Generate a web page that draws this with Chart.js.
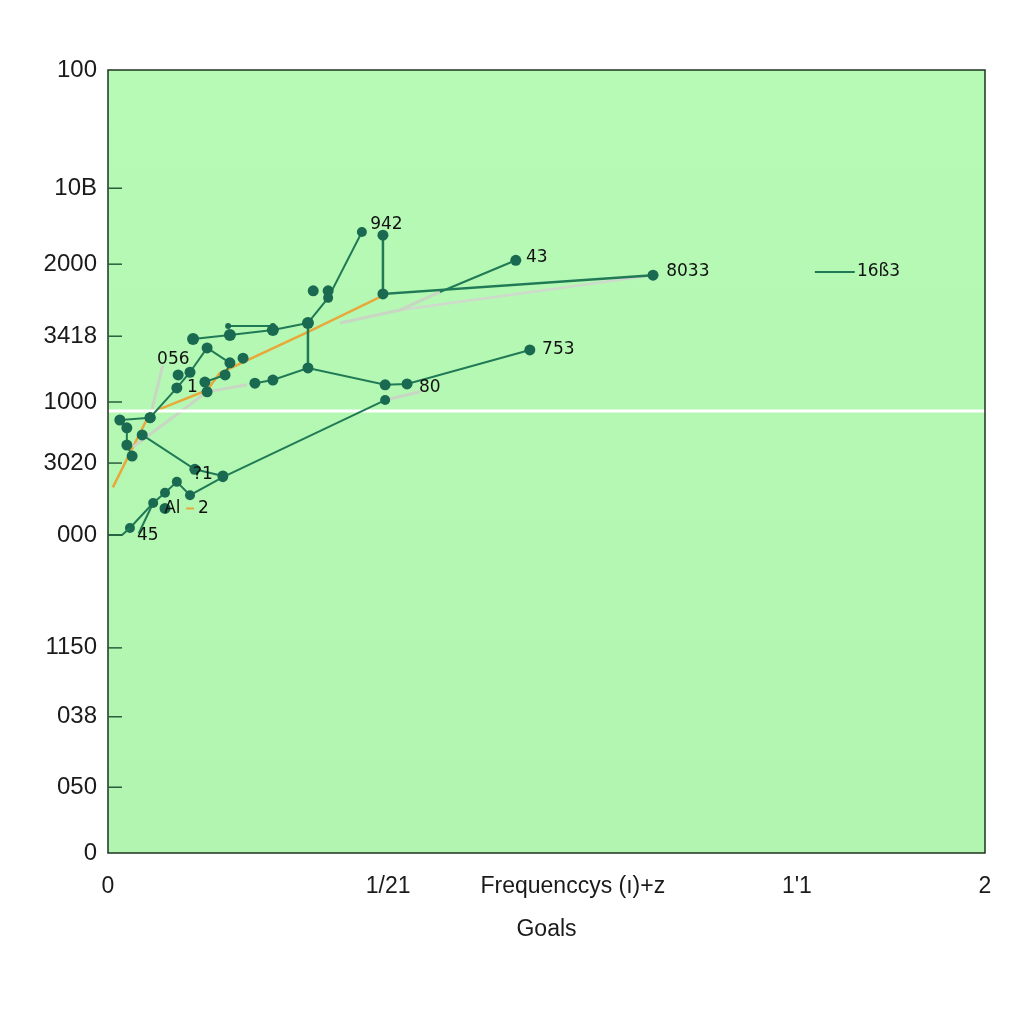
<!DOCTYPE html>
<html>
<head>
<meta charset="utf-8">
<script src="https://cdn.jsdelivr.net/npm/chart.js@4"></script>
<style>
  html, body { margin: 0; padding: 0; background: #ffffff; }
</style>
</head>
<body>
<canvas id="myChart" width="1024" height="1024"></canvas>
<script>
// axis ticks (odd labels copied as they appear)
var yTickValues = [0, 8.4, 17.4, 26.2, 40.6, 49.8, 57.6, 66.0, 75.2, 84.9, 100];
var yTickLabels = ["0", "050", "038", "1150", "000", "3020", "1000", "3418", "2000", "10B", "100"];
var xTickValues = [0, 0.639, 1.06, 1.571, 2];
var xTickLabels = ["0", "1/21", "Frequenccys (\u0131)+z", "1'1", "2"];

// green series
var stubLine = [[0, 40.6], [0.032, 40.6], [0.050, 41.5]];
var lowerLine = [[0.050, 41.5], [0.103, 44.7], [0.130, 46.0], [0.157, 47.4], [0.187, 45.7], [0.262, 48.0], [0.632, 57.85]];
var tailLine = [[0.103, 44.7], [0.070, 40.8]];
var clusterLine = [[0.055, 50.7], [0.043, 52.1], [0.043, 54.3], [0.027, 55.3], [0.096, 55.6]];
var dropLine = [[0.078, 53.4], [0.198, 49.0], [0.262, 48.15]];
var wiggleLine = [[0.096, 55.6], [0.157, 59.4], [0.187, 61.4], [0.226, 64.5], [0.278, 62.6], [0.267, 61.05], [0.221, 60.15]];
var upperFlat = [[0.194, 65.65], [0.278, 66.15], [0.376, 66.8], [0.456, 67.7]];
var shortFlat = [[0.274, 67.3], [0.376, 67.3]];
var midLine = [[0.335, 60.0], [0.376, 60.4], [0.456, 61.95], [0.632, 59.8], [0.682, 59.9], [0.962, 64.25]];
var stemLine = [[0.456, 67.7], [0.456, 61.95]];
var riseLine = [[0.456, 67.7], [0.502, 70.9], [0.579, 79.3]];
var topLine = [[0.627, 78.9], [0.627, 71.4], [1.243, 73.8]];
var line43 = [[0.757, 71.65], [0.930, 75.7]];
var legendLine = [[1.612, 74.2], [1.703, 74.2]];
var looseDots = [[0.160, 61.05], [0.308, 63.2], [0.226, 58.9], [0.468, 71.8], [0.502, 71.8], [0.130, 44.0]];

// orange trend and grey shadows
var orangeLine = [[0.011, 46.7], [0.057, 51.85], [0.096, 56.2], [0.226, 59.1], [0.255, 61.3], [0.454, 66.5], [0.620, 71.0]];
var orangeDash = [[0.178, 44.0], [0.196, 44.0]];
var greyA = [[0.096, 55.7], [0.125, 62.3]];
var greyB = [[0.057, 51.85], [0.226, 58.9], [0.317, 59.8]];
var greyC = [[0.529, 67.7], [0.666, 69.35], [0.757, 71.65]];
var greyD = [[0.666, 69.35], [1.243, 73.8]];
var greyE = [[0.632, 57.85], [0.712, 58.9]];
var whiteLine = [[0, 56.45], [2, 56.45]];

// point labels: text, x, y
var pointLabels = [
  ["942", 0.598, 80.3], ["43", 0.953, 76.0], ["8033", 1.273, 74.2], ["16\u00df3", 1.708, 74.2],
  ["753", 0.990, 64.25], ["80", 0.709, 59.4], ["056", 0.112, 63.0], ["1", 0.180, 59.5],
  ["?1", 0.194, 48.3], ["Al", 0.128, 44.0], ["2", 0.205, 44.0], ["45", 0.066, 40.6]
];

var green = "#217a56";
var dot = "#1a6a52";

function pts(arr) { return arr.map(function (p) { return { x: p[0], y: p[1] }; }); }
function greenSet(arr, radius, width) {
  return { data: pts(arr), showLine: true, borderColor: green, borderWidth: width || 2,
    pointRadius: radius, pointBackgroundColor: dot, pointBorderWidth: 0, order: 1 };
}
function plainSet(arr, color, width) {
  return { data: pts(arr), showLine: true, borderColor: color, borderWidth: width,
    pointRadius: 0, order: 3 };
}

var chartPlugin = {
  id: "chartDecor",
  beforeDraw: function (chart) {
    var a = chart.chartArea, ctx = chart.ctx;
    ctx.save();
    var g = ctx.createLinearGradient(0, a.top, 0, a.bottom);
    g.addColorStop(0, "#b6fab6");
    g.addColorStop(1, "#b2f5b0");
    ctx.fillStyle = g;
    ctx.fillRect(a.left, a.top, a.right - a.left, a.bottom - a.top);
    ctx.restore();
  },
  afterDraw: function (chart) {
    var a = chart.chartArea, ctx = chart.ctx;
    var xs = chart.scales.x, ys = chart.scales.y;
    ctx.save();
    ctx.strokeStyle = "#1c3322";
    ctx.lineWidth = 1.5;
    ctx.strokeRect(a.left, a.top, a.right - a.left, a.bottom - a.top);
    // inward tick marks on the y axis
    ctx.strokeStyle = "#2a5e3c";
    ctx.lineWidth = 1.5;
    yTickValues.slice(1, -1).forEach(function (v) {
      var py = ys.getPixelForValue(v);
      ctx.beginPath();
      ctx.moveTo(a.left, py);
      ctx.lineTo(a.left + 14, py);
      ctx.stroke();
    });
    ctx.fillStyle = "#111111";
    ctx.font = "17px 'DejaVu Sans', sans-serif";
    ctx.textBaseline = "middle";
    ctx.textAlign = "left";
    pointLabels.forEach(function (l) {
      ctx.fillText(l[0], xs.getPixelForValue(l[1]), ys.getPixelForValue(l[2]));
    });
    ctx.restore();
  }
};

new Chart("myChart", {
  type: "scatter",
  data: {
    datasets: [
      plainSet(whiteLine, "#ffffff", 3),
      plainSet(greyA, "#c9d6c4", 3),
      plainSet(greyB, "#c9d6c4", 3),
      plainSet(greyC, "#c9d6c4", 3),
      plainSet(greyD, "#cfd9cc", 2.5),
      plainSet(greyE, "#c9d6c4", 3),
      plainSet(orangeLine, "#e8a83a", 2.5),
      plainSet(orangeDash, "#e8a83a", 2),
      greenSet(stubLine, 0),
      greenSet(lowerLine, 5),
      greenSet(tailLine, 0),
      greenSet(clusterLine, 5.5),
      greenSet(dropLine, 5.5),
      greenSet(wiggleLine, 5.5),
      greenSet(upperFlat, 6),
      greenSet(shortFlat, 3),
      greenSet(midLine, 5.5),
      greenSet(stemLine, 0, 2.5),
      greenSet(riseLine, 5),
      greenSet(topLine, 5.5, 2.5),
      greenSet(line43, [0, 5.5]),
      greenSet(legendLine, 0),
      { data: pts(looseDots), showLine: false, pointRadius: 5.5, pointBackgroundColor: dot, pointBorderWidth: 0 }
    ]
  },
  options: {
    responsive: false,
    animation: false,
    layout: { padding: { top: 70, left: 0, right: 39, bottom: 51 } },
    plugins: { legend: { display: false }, tooltip: { enabled: false } },
    scales: {
      x: {
        type: "linear", min: 0, max: 2,
        border: { display: false },
        grid: { display: false, drawTicks: false },
        afterBuildTicks: function (s) { s.ticks = xTickValues.map(function (v) { return { value: v }; }); },
        afterFit: function (s) { s.height = 120; },
        ticks: {
          autoSkip: false, maxRotation: 0, padding: 20, color: "#1a1a1a",
          font: { family: "'Liberation Sans Narrow', 'Liberation Sans', sans-serif", size: 23 },
          callback: function (v, i) { return xTickLabels[i]; }
        },
        title: {
          display: true, text: "Goals", color: "#1a1a1a",
          font: { family: "'Liberation Sans Narrow', 'Liberation Sans', sans-serif", size: 23 },
          padding: { top: 0, bottom: 30 }
        }
      },
      y: {
        type: "linear", min: 0, max: 100,
        border: { display: false },
        grid: { display: false, drawTicks: false },
        afterBuildTicks: function (s) { s.ticks = yTickValues.map(function (v) { return { value: v }; }); },
        afterFit: function (s) { s.width = 108; },
        ticks: {
          autoSkip: false, padding: 11, color: "#1a1a1a",
          font: { family: "'Liberation Sans', sans-serif", size: 24 },
          callback: function (v, i) { return yTickLabels[i]; }
        }
      }
    }
  },
  plugins: [chartPlugin]
});
</script>
</body>
</html>
